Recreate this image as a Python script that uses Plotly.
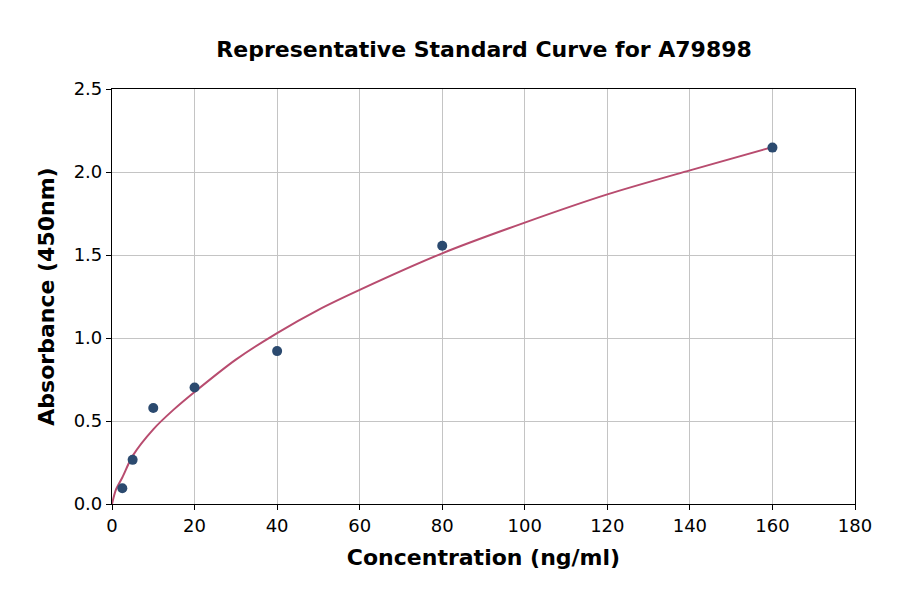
import plotly.graph_objects as go

# Standard points
conc = [2.5, 5, 10, 20, 40, 80, 160]
absorb = [0.095, 0.266, 0.578, 0.702, 0.921, 1.556, 2.147]

# Fitted curve
curve_x = [0, 0.5, 1, 2.5, 5, 10, 15, 20, 30, 40, 50, 60, 80, 100, 120, 140, 160]
curve_y = [0.0, 0.05, 0.09, 0.16, 0.29, 0.45, 0.57, 0.675, 0.87, 1.03, 1.17, 1.29, 1.51, 1.695, 1.865, 2.01, 2.15]

x_ticks = [0, 20, 40, 60, 80, 100, 120, 140, 160, 180]
y_ticks = [0.0, 0.5, 1.0, 1.5, 2.0, 2.5]

font = 'DejaVu Sans'

fig = go.Figure()
fig.add_trace(go.Scatter(x=curve_x, y=curve_y, mode='lines', line=dict(color='#b84c6f', width=2, shape='spline', smoothing=0.8),
                         showlegend=False, hoverinfo='skip'))
fig.add_trace(go.Scatter(x=conc, y=absorb, mode='markers', marker=dict(color='#2b4a6f', size=10),
                         showlegend=False))

axis_common = dict(showline=True, linecolor='black', linewidth=1.2, mirror=True, ticks='outside', ticklen=5,
                   tickcolor='black', showgrid=True, gridcolor='#c4c4c4', gridwidth=1, zeroline=False,
                   tickfont=dict(family=font, size=18, color='black'))

fig.update_xaxes(range=[0, 180], tickvals=x_ticks, ticktext=[str(v) for v in x_ticks],
                 title=dict(text='<b>Concentration (ng/ml)</b>', font=dict(family=font, size=22, color='black'), standoff=14),
                 **axis_common)
fig.update_yaxes(range=[0, 2.5], tickvals=y_ticks, ticktext=[f'{v:.1f}' for v in y_ticks],
                 title=dict(text='<b>Absorbance (450nm)</b>', font=dict(family=font, size=22, color='black'), standoff=12),
                 **axis_common)

fig.update_layout(
    width=900, height=594,
    margin=dict(l=104, r=53, t=81, b=98),
    plot_bgcolor='white', paper_bgcolor='white',
    title=dict(text='<b>Representative Standard Curve for A79898</b>', x=0.529, xanchor='center', y=0.931, yanchor='middle',
               font=dict(family=font, size=22, color='black')),
)

fig.write_html("out.html")
